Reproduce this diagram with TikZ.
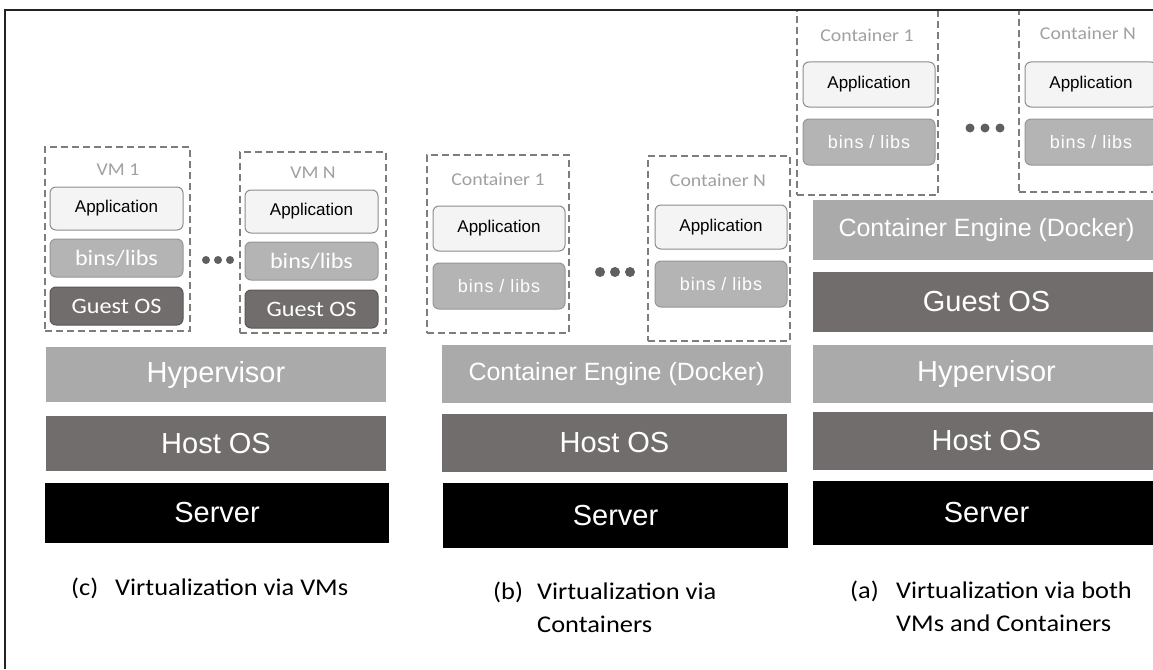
\documentclass[tikz,border=0pt]{standalone}
\usepackage{fontspec}
\setmainfont{Liberation Sans}
\newfontfamily\calfont[FakeStretch=1.1]{Carlito}
\definecolor{lightbar}{RGB}{170,170,170}
\definecolor{darkbar}{RGB}{113,109,108}
\definecolor{libsfill}{RGB}{180,180,180}
\definecolor{libsline}{RGB}{150,150,150}
\definecolor{appfill}{RGB}{244,244,244}
\definecolor{appline}{RGB}{140,140,140}
\definecolor{taggrey}{RGB}{160,160,160}
\definecolor{dashgrey}{RGB}{125,125,125}
\definecolor{dotgrey}{RGB}{95,95,95}
\definecolor{framegrey}{RGB}{35,35,35}

\begin{document}
\begin{tikzpicture}[x=1pt, y=-1pt,
  every node/.style={inner sep=0pt, align=center, text=white},
  wh/.style 2 args={minimum width=#1pt, minimum height=#2pt},
  slot/.style={draw=dashgrey, dash pattern=on 7pt off 4pt, line width=1.3pt},
  tag/.style={text=taggrey, font=\calfont\fontsize{18}{18}\selectfont},
  app/.style={draw=appline, fill=appfill, rounded corners=6pt, line width=1pt,
    text=black, font=\fontsize{17}{17}\selectfont},
  libs/.style={draw=libsline, fill=libsfill, rounded corners=6pt, line width=1pt,
    font=\addfontfeature{LetterSpace=5}\fontsize{18}{18}\selectfont},
  vmlibs/.style={libs, font=\calfont\fontsize{22}{22}\selectfont},
  guest/.style={draw=darkbar!80!black, fill=darkbar, rounded corners=6pt, line width=1pt,
    font=\calfont\fontsize{22}{22}\selectfont},
  bar/.style={font=\fontsize{29}{29}\selectfont},
  engine/.style={fill=lightbar, font=\fontsize{25}{25}\selectfont},
  caption/.style={anchor=north west, align=left, text=black,
    font=\calfont\fontsize{24}{33}\selectfont}
]
\useasboundingbox (0,0) rectangle (1153,669);
\clip (0,0) rectangle (1153,669);

\node[slot, wh={145}{184}] (vmOne) at (117.5,239) {};
\node[tag] (vmOneTag) at (118,170) {VM 1};
\node[app, wh={133}{43}] (appC1) at (116.5,208.5) {Application};
\node[vmlibs, wh={133}{38}] (libsC1) at (116.5,258) {bins/libs};
\node[guest, wh={133}{38}] (guestC1) at (116.5,306) {Guest OS};
\node[slot, wh={146}{181}] (vmN) at (313,242.5) {};
\node[tag] (vmNTag) at (313,173) {VM N};
\node[app, wh={133}{43}] (appCN) at (311.5,211.5) {Application};
\node[vmlibs, wh={133}{38}] (libsCN) at (311.5,261) {bins/libs};
\node[guest, wh={133}{38}] (guestCN) at (311.5,309) {Guest OS};
\fill[dotgrey] (206,260) circle (4) (218,260) circle (4) (230,260) circle (4);
\node[bar, fill=lightbar, wh={340}{55}] (hypC) at (216,374.5) {Hypervisor};
\node[bar, fill=darkbar, wh={340}{55}] (hostC) at (216,443.5) {Host OS};
\node[bar, fill=black, wh={344}{60}] (serverC) at (217,513) {Server};
\node[caption] (capC) at (71,578) {\makebox[44pt][l]{(c)}Virtualization via VMs};

\node[slot, wh={142}{178}] (ctB1) at (498,244) {};
\node[tag] (ctB1Tag) at (498,179) {Container 1};
\node[app, wh={132}{45}] (appB1) at (499,228.5) {Application};
\node[libs, wh={132}{46}] (libsB1) at (499,286) {bins / libs};
\node[slot, wh={142}{185}] (ctBN) at (719,248.5) {};
\node[tag] (ctBNTag) at (718,180) {Container N};
\node[app, wh={132}{44}] (appBN) at (721,227) {Application};
\node[libs, wh={132}{46}] (libsBN) at (721,284) {bins / libs};
\fill[dotgrey] (600,272) circle (5) (615,272) circle (5) (630,272) circle (5);
\node[engine, wh={349}{58}] (engineB) at (616.5,374) {Container Engine (Docker)};
\node[bar, fill=darkbar, wh={345}{58}] (hostB) at (614.5,443) {Host OS};
\node[bar, fill=black, wh={345}{65}] (serverB) at (615.5,515.5) {Server};
\node[caption] (capB) at (493,582) {\makebox[44pt][l]{(b)}Virtualization via\\
  \hspace*{44pt}Containers};

\node[slot, wh={141}{185}] (ctA1) at (867.5,102.5) {};
\node[tag] (ctA1Tag) at (867,35) {Container 1};
\node[app, wh={132}{45}] (appA1) at (869,84.5) {Application};
\node[libs, wh={132}{46}] (libsA1) at (869,142) {bins / libs};
\node[slot, wh={141}{182}] (ctAN) at (1089.5,101) {};
\node[tag] (ctANTag) at (1088,33) {Container N};
\node[app, wh={132}{45}] (appAN) at (1091,84.5) {Application};
\node[libs, wh={132}{46}] (libsAN) at (1091,142) {bins / libs};
\fill[dotgrey] (970,128) circle (4.5) (985,128) circle (4.5) (1000,128) circle (4.5);
\node[engine, wh={347}{60}] (engineA) at (986.5,230) {Container Engine (Docker)};
\node[bar, fill=darkbar, wh={347}{60}] (guestA) at (986.5,302) {Guest OS};
\node[bar, fill=lightbar, wh={347}{58}] (hypA) at (986.5,374) {Hypervisor};
\node[bar, fill=darkbar, wh={347}{58}] (hostA) at (986.5,441) {Host OS};
\node[bar, fill=black, wh={347}{64}] (serverA) at (986.5,513) {Server};
\node[caption] (capA) at (850,581) {\makebox[46pt][l]{(a)}Virtualization via both\\
  \hspace*{46pt}VMs and Containers};

\draw[framegrey, line width=2pt] (5,669) -- (5,10) -- (1153,10);
\end{tikzpicture}
\end{document}
